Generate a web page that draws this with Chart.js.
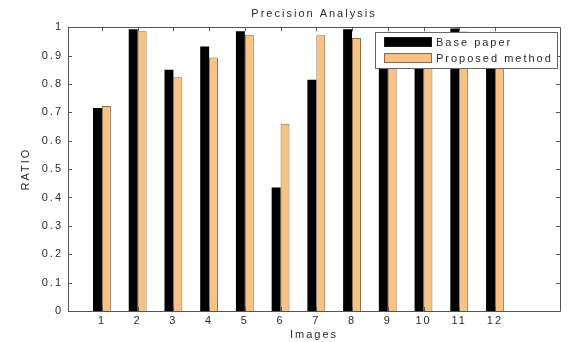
<!DOCTYPE html>
<html>
<head>
<meta charset="utf-8">
<script src="https://cdn.jsdelivr.net/npm/chart.js@4"></script>
<style>
  html, body { margin: 0; padding: 0; background: #fff; }
  canvas { display: block; }
</style>
</head>
<body>
<canvas id="precision" width="568" height="342"></canvas>
<script>
  "use strict";

  // image numbers on the x axis
  var images = [1, 2, 3, 4, 5, 6, 7, 8, 9, 10, 11, 12];
  // precision ratio per image (9, 10, 12 and part of 11 are hidden by the legend, estimated)
  var basePaper = [0.715, 0.993, 0.85, 0.932, 0.986, 0.435, 0.815, 0.993, 0.97, 0.96, 0.995, 0.97];
  var proposedMethod = [0.722, 0.986, 0.824, 0.893, 0.973, 0.66, 0.972, 0.962, 0.96, 0.97, 0.985, 0.96];
  var yTicks = [0, 0.1, 0.2, 0.3, 0.4, 0.5, 0.6, 0.7, 0.8, 0.9, 1];

  function toPoints(values) {
    return images.map(function(img, i) {
      return { x: img, y: values[i] };
    });
  }

  Chart.defaults.font.family = "'Liberation Sans', Arial, sans-serif";
  Chart.defaults.font.size = 11;
  Chart.defaults.color = "#2a2a2a";

  // matlab style: text a bit spread out, box round the axes, ticks pointing in, legend inside
  var matlabLook = {
    id: "matlabLook",
    beforeLayout: function(chart) {
      chart.ctx.letterSpacing = "2px";
    },
    beforeDraw: function(chart) {
      chart.ctx.letterSpacing = "2px";
    },
    afterDraw: function(chart) {
      var ctx = chart.ctx;
      var area = chart.chartArea;
      var xs = chart.scales.x;
      var ys = chart.scales.y;
      var tick = 4;

      ctx.save();
      ctx.strokeStyle = "#555";
      ctx.lineWidth = 1;
      ctx.beginPath();
      ctx.rect(Math.round(area.left) + 0.5, Math.round(area.top) + 0.5,
        Math.round(area.right - area.left), Math.round(area.bottom - area.top));

      images.forEach(function(img) {
        var px = Math.round(xs.getPixelForValue(img)) + 0.5;
        ctx.moveTo(px, area.bottom);
        ctx.lineTo(px, area.bottom - tick);
        ctx.moveTo(px, area.top);
        ctx.lineTo(px, area.top + tick);
      });
      yTicks.forEach(function(v) {
        var py = Math.round(ys.getPixelForValue(v)) + 0.5;
        ctx.moveTo(area.left, py);
        ctx.lineTo(area.left + tick, py);
        ctx.moveTo(area.right, py);
        ctx.lineTo(area.right - tick, py);
      });
      ctx.stroke();

      // legend box in the top right corner of the plot
      var boxW = 182, boxH = 36;
      var bx = Math.round(area.right) - 3 - boxW;
      var by = Math.round(area.top) + 5;
      ctx.fillStyle = "#fff";
      ctx.fillRect(bx, by, boxW, boxH);
      ctx.strokeStyle = "#666";
      ctx.strokeRect(bx + 0.5, by + 0.5, boxW, boxH);

      ctx.font = "11px 'Liberation Sans', Arial, sans-serif";
      ctx.letterSpacing = "2px";
      ctx.textBaseline = "middle";
      ctx.textAlign = "left";
      chart.data.datasets.forEach(function(ds, i) {
        var rowY = by + 5 + i * 16;
        ctx.fillStyle = ds.backgroundColor;
        ctx.fillRect(bx + 9, rowY, 48, 10);
        ctx.strokeStyle = ds.borderColor;
        ctx.strokeRect(bx + 9.5, rowY + 0.5, 47, 9);
        ctx.fillStyle = "#2a2a2a";
        ctx.fillText(ds.label, bx + 61, rowY + 5.5);
      });
      ctx.restore();
    }
  };

  var ctx = document.getElementById("precision").getContext("2d");

  window.precisionChart = new Chart(ctx, {
    type: "bar",
    data: {
      datasets: [
        {
          label: "Base paper",
          data: toPoints(basePaper),
          backgroundColor: "#000000",
          borderColor: "#1a1a1a",
          borderWidth: 0,
        },
        {
          label: "Proposed method",
          data: toPoints(proposedMethod),
          backgroundColor: "#f9c285",
          borderColor: "#8c6a48",
          borderWidth: 1,
        },
      ],
    },
    options: {
      responsive: false,
      animation: false,
      categoryPercentage: 0.5,
      barPercentage: 1.0,
      layout: {
        padding: { left: 0, right: 8, top: 0, bottom: 0 },
      },
      scales: {
        x: {
          type: "linear",
          offset: false,
          min: 0.05,
          max: 13.82,
          grid: { display: false, drawTicks: false, offset: false },
          border: { display: false },
          ticks: {
            stepSize: 1,
            includeBounds: false,
            autoSkip: false,
            maxRotation: 0,
            padding: 3,
            callback: function(value) {
              return images.indexOf(value) >= 0 ? String(value) : "";
            },
          },
          title: {
            display: true,
            text: "Images",
            padding: { top: 0, bottom: 0 },
          },
          afterFit: function(scale) {
            scale.height = 31;
          },
        },
        y: {
          min: 0,
          max: 1,
          grid: { display: false, drawTicks: false },
          border: { display: false },
          ticks: {
            stepSize: 0.1,
            padding: 5,
            callback: function(value) {
              return String(Math.round(value * 10) / 10);
            },
          },
          title: {
            display: true,
            text: "RATIO",
            padding: { top: 19, bottom: 0 },
          },
          afterFit: function(scale) {
            scale.width = 68;
          },
        },
      },
      plugins: {
        legend: { display: false },
        tooltip: { enabled: false },
        title: {
          display: true,
          text: "Precision Analysis",
          fullSize: false,
          padding: { top: 7, bottom: 7 },
          font: { size: 11, weight: "normal" },
          color: "#2a2a2a",
        },
      },
    },
    plugins: [matlabLook],
  });
</script>
</body>
</html>
